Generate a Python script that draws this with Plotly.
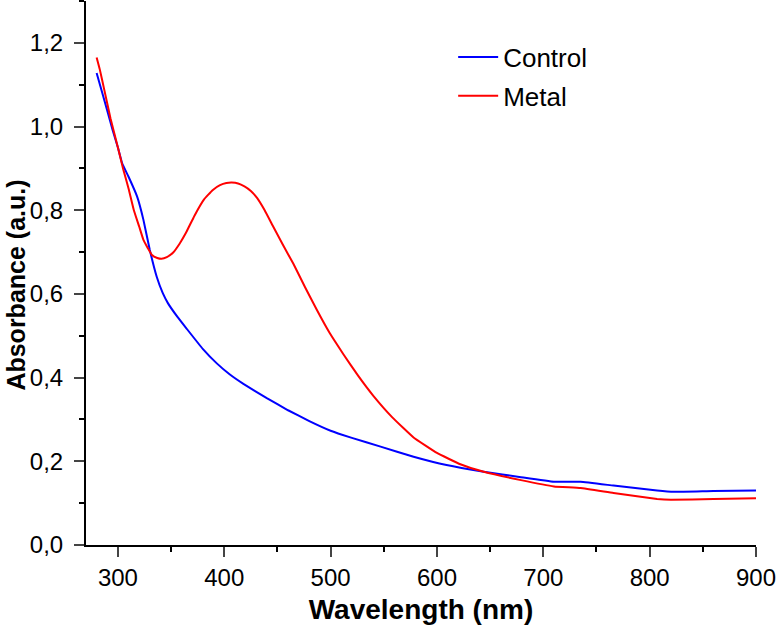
import plotly.graph_objects as go

control_x = [280, 285, 290, 295, 300, 304, 310, 318, 324, 330, 336.5, 342, 347, 356, 364, 380, 393, 405, 418, 440, 460, 480, 500, 520, 547, 578, 609, 644, 679, 710, 735, 766, 807, 823, 860, 900]
control_y = [1.128, 1.083, 1.038, 0.992, 0.95, 0.912, 0.880, 0.833, 0.777, 0.705, 0.641, 0.603, 0.578, 0.545, 0.519, 0.468, 0.434, 0.408, 0.385, 0.351, 0.322, 0.296, 0.273, 0.256, 0.235, 0.211, 0.191, 0.175, 0.162, 0.151, 0.151, 0.142, 0.130, 0.127, 0.129, 0.130]

metal_x = [280, 283, 287, 293, 300, 305, 310, 315, 320, 324, 328, 332, 337, 341, 346, 352, 358, 364, 372, 381, 389, 396, 402, 407, 413, 419, 425, 431, 438, 446, 455, 465, 476, 487, 499, 512, 526, 540, 558, 578, 600, 622, 644, 679, 710, 735, 766, 807, 820, 860, 900]
metal_y = [1.165, 1.136, 1.09, 1.020, 0.950, 0.898, 0.852, 0.800, 0.761, 0.729, 0.710, 0.693, 0.686, 0.684, 0.688, 0.699, 0.720, 0.746, 0.787, 0.826, 0.848, 0.860, 0.865, 0.866, 0.864, 0.857, 0.846, 0.829, 0.800, 0.761, 0.718, 0.672, 0.616, 0.562, 0.507, 0.456, 0.404, 0.357, 0.305, 0.257, 0.220, 0.193, 0.175, 0.155, 0.140, 0.136, 0.124, 0.110, 0.108, 0.110, 0.112]

x_ticks = [300, 400, 500, 600, 700, 800, 900]
y_ticks = [0.0, 0.2, 0.4, 0.6, 0.8, 1.0, 1.2]

fig = go.Figure()
fig.add_trace(go.Scatter(x=control_x, y=control_y, mode="lines", name="Control",
                         legendgroup="a",
                         line=dict(color="#0000FF", width=2, shape="spline", smoothing=0.3)))
fig.add_trace(go.Scatter(x=metal_x, y=metal_y, mode="lines", name="Metal",
                         legendgroup="b",
                         line=dict(color="#FF0000", width=2, shape="spline", smoothing=0.3)))

font_family = "Liberation Sans, Arial, sans-serif"
fig.update_layout(
    width=777, height=634,
    margin=dict(l=86, r=21, t=1, b=89),
    paper_bgcolor="white", plot_bgcolor="white",
    separators=",.",
    font=dict(family=font_family, color="black", size=24),
    showlegend=True,
    legend=dict(x=0.548, y=0.940, xanchor="left", yanchor="top",
                font=dict(size=26, family=font_family, color="black"),
                bgcolor="rgba(0,0,0,0)", tracegroupgap=2, itemwidth=40,
                traceorder="grouped"),
    xaxis=dict(range=[270, 900], tickvals=x_ticks, ticks="outside", ticklen=10, tickwidth=2,
               showline=True, linecolor="black", linewidth=2, showgrid=False, zeroline=False,
               tickfont=dict(size=24), automargin=False,
               minor=dict(dtick=50, tick0=250, ticks="outside", ticklen=5, tickwidth=2, tickcolor="black"),
               title=dict(text="<b>Wavelength (nm)</b>", font=dict(size=28), standoff=10)),
    yaxis=dict(range=[0, 1.3], tickvals=y_ticks, tickformat=".1f", ticks="outside", ticklen=10, tickwidth=2,
               showline=True, linecolor="black", linewidth=2, showgrid=False, zeroline=False,
               tickfont=dict(size=24), ticklabelstandoff=6, automargin=False,
               minor=dict(dtick=0.1, tick0=0, ticks="outside", ticklen=5, tickwidth=2, tickcolor="black")),
    annotations=[dict(text="<b>Absorbance (a.u.)</b>", textangle=-90, xref="paper", yref="paper",
                      x=-0.105, y=0.478, xanchor="center", yanchor="middle", showarrow=False,
                      font=dict(size=25, family=font_family, color="black"))],
)

fig.write_html("out.html", config={"displayModeBar": False},
               post_script="document.body.style.margin='0';")
